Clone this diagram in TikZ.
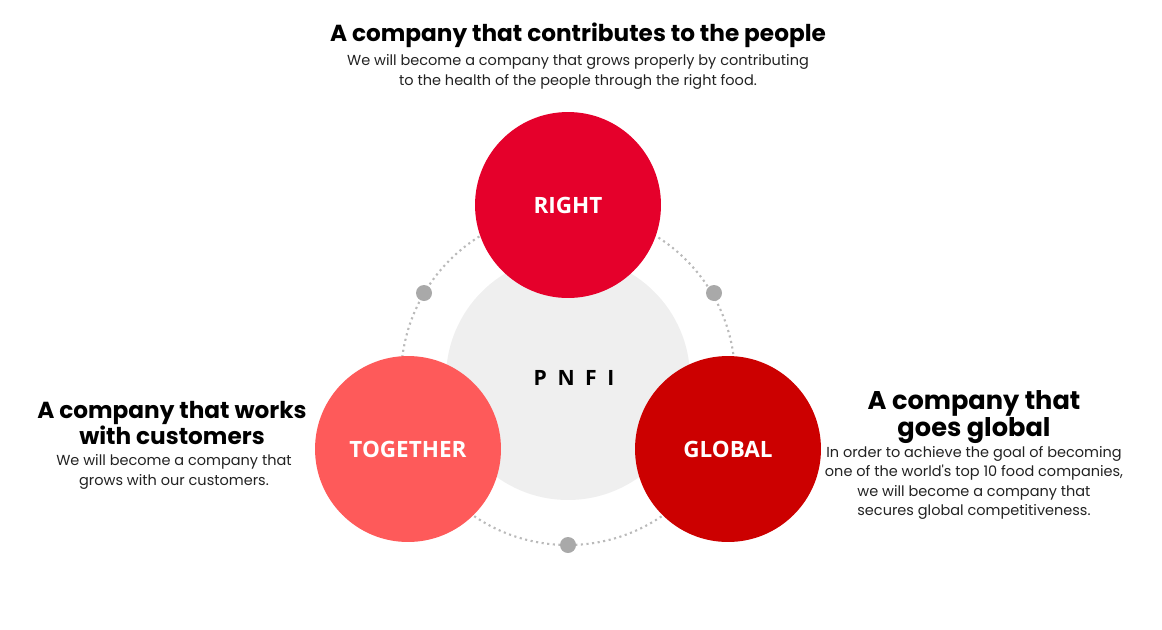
\documentclass[tikz,border=0pt]{standalone}
\usepackage{fontspec}
\setmainfont{Poppins}
\newfontfamily\labelfont{Open Sans}

\definecolor{rightred}{HTML}{E5002B}
\definecolor{togetherred}{HTML}{FE5A5A}
\definecolor{globalred}{HTML}{CC0000}
\definecolor{coregray}{HTML}{EFEFEF}
\definecolor{dotgray}{HTML}{A9A9A9}
\definecolor{bodytext}{HTML}{222222}

\begin{document}
\begin{tikzpicture}[x=0.02cm, y=-0.02cm,
    every node/.style={align=center, inner sep=0pt},
    head/.style={font=\bfseries\fontsize{13.2pt}{13.6pt}\selectfont},
    desc/.style={text=bodytext, font=\fontsize{8.25pt}{11pt}\selectfont},
    bubble/.style={circle, minimum size=3.72cm, text=white,
      font=\labelfont\bfseries\fontsize{12.8pt}{14pt}\selectfont},
    ring/.style={dotgray!80, dotted, line width=1.2pt},
    dot/.style={circle, fill=dotgray, minimum size=0.32cm}]
  \useasboundingbox (0,0) rectangle (1162,629);

  \coordinate (mid) at (568, 378);
  \draw[ring] (mid) circle[radius=167];

  \node[circle, fill=coregray, minimum size=4.88cm]
    (core) at (mid) {};

  \node[font=\labelfont\bfseries\fontsize{12pt}{14pt}\selectfont]
    (pnfi) at (574, 378)
    {P\enspace N\enspace F\enspace I};

  \node[bubble, fill=rightred]
    (right) at (568, 205) {RIGHT};

  \node[bubble, fill=togetherred]
    (together) at (408, 449) {TOGETHER};

  \node[bubble, fill=globalred]
    (global) at (728, 449) {GLOBAL};

  \node[dot] (dotL) at (424, 293) {};
  \node[dot] (dotR) at (714, 293) {};
  \node[dot] (dotB) at (568, 545) {};

  % top
  \node[head]
    (peopleH) at (578, 35)
    {A company that contributes to the people};
  \node[desc]
    (peopleT) at (578, 72)
    {We will become a company that grows properly by contributing\\
    to the health of the people through the right food.};

  % left
  \node[head]
    (customH) at (172, 423)
    {A company that works\\
    with customers};
  \node[desc]
    (customT) at (174, 472)
    {We will become a company that\\
    grows with our customers.};

  % right
  \node[head, font=\bfseries\fontsize{14.6pt}{13.8pt}\selectfont]
    (globalH) at (974, 417)
    {A company that\\
    goes global};
  \node[desc]
    (globalT) at (974, 483)
    {In order to achieve the goal of becoming\\
    one of the world\textquotesingle s top 10 food companies,\\
    we will become a company that\\
    secures global competitiveness.};

\end{tikzpicture}
\end{document}
